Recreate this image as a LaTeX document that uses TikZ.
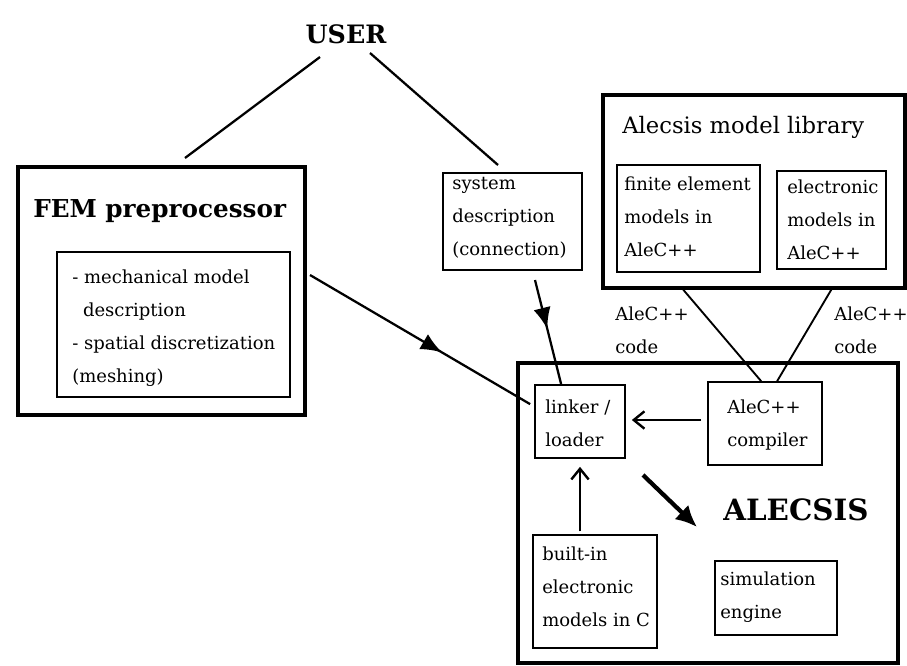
\documentclass[tikz,border=0pt]{standalone}
\usepackage{fontspec}
\setmainfont{DejaVu Serif}
\usetikzlibrary{fit,calc,decorations.markings,arrows.meta}
\begin{document}
\begin{tikzpicture}[x=0.75pt,y=-0.75pt,
 thickbox/.style={draw, line width=2.6pt, inner sep=0pt},
 thinbox/.style={draw, line width=1.3pt, inner sep=0pt},
 txt/.style={anchor=north west, inner sep=0pt, align=left, font=\fontsize{13.5}{24.75}\selectfont},
 conn/.style={line width=1.7pt},
 midarrow/.style={conn, decoration={markings, mark=at position #1 with {\arrow{Latex[length=16pt,width=13pt]}}}, postaction={decorate}},
 openarrow/.style={line width=1.8pt, -{Straight Barb[length=8pt,width=13pt]}},
]
\useasboundingbox (0,0) rectangle (907,665);

% titles
\node[inner sep=0pt, font=\fontsize{19}{22}\selectfont\bfseries] (user) at (346,34) {USER};

% FEM preprocessor
\node[thickbox, fit={(18,167) (305,415)}] (fem) {};
\node[anchor=base west, inner sep=0pt, font=\fontsize{18.5}{22}\selectfont\bfseries] (femt) at (33,217) {FEM preprocessor};
\node[thinbox, fit={(57,252) (290,397)}] (femin) {};
\node[txt] (femtx) at (72,270) {- mechanical model\\\hspace{0.6em}description\\- spatial discretization\\(meshing)};

% system description
\node[thinbox, fit={(443,173) (582,270)}] (sys) {};
\node[txt] (systx) at (452,177) {system\\description\\(connection)};

% Alecsis model library
\node[thickbox, fit={(603,95) (905,288)}] (lib) {};
\node[anchor=base west, inner sep=0pt, font=\fontsize{17}{20}\selectfont] (libt) at (622,133) {Alecsis model library};
\node[thinbox, fit={(617,165) (760,272)}] (fe) {};
\node[txt] (fetx) at (624,177) {finite element\\models in\\AleC++};
\node[thinbox, fit={(777,171) (886,269)}] (el) {};
\node[txt] (eltx) at (787,180) {electronic\\models in\\AleC++};

\node[txt] (code1) at (615,307) {AleC++\\code};
\node[txt] (code2) at (834,307) {AleC++\\code};

% ALECSIS
\node[thickbox, fit={(518,363) (898,663)}] (alc) {};
\node[anchor=base west, inner sep=0pt, font=\fontsize{22}{26}\selectfont\bfseries] (alct) at (723,520) {ALECSIS};
\node[thinbox, fit={(535,385) (625,458)}] (lnk) {};
\node[txt] (lnktx) at (545,400) {linker /\\loader};
\node[thinbox, fit={(708,382) (822,465)}] (cmp) {};
\node[txt] (cmptx) at (727,400) {AleC++\\compiler};
\node[thinbox, fit={(533,535) (657,648)}] (bin) {};
\node[txt] (bintx) at (542,547) {built-in\\electronic\\models in C};
\node[thinbox, fit={(715,561) (837,635)}] (sim) {};
\node[txt] (simtx) at (720,572) {simulation\\engine};

% USER lines
\coordinate (u1) at (320,57);
\coordinate (u2) at (370,53);
\coordinate (f1) at (185,158);
\coordinate (s1) at (498,165);
\draw[conn] (u1) -- (f1);
\draw[conn] (u2) -- (s1);

% library to compiler
\draw[line width=1.4pt] ($(lib.south west)+(82,0)$) -- ($(cmp.north west)+(54,0)$);
\draw[line width=1.4pt] ($(lib.south west)+(230,0)$) -- ($(cmp.north west)+(70,0)$);

% FEM -> linker
\coordinate (fa) at (310,275);
\draw[midarrow=0.6] (fa) -- ($(lnk.north west)+(-4,20)$);
% system description -> linker
\coordinate (sa) at (535,280);
\draw[midarrow=0.47] (sa) -- ($(lnk.north west)+(27,0)$);

% compiler -> linker
\draw[openarrow, shorten <=6pt*0.75, shorten >=6pt*0.75] (cmp.west |- 0,420) -- (lnk.east |- 0,420);
% built-in -> linker
\draw[openarrow, shorten >=8pt*0.75, shorten <=2pt] (lnk.south |- bin.north) -- (lnk.south);

% thick arrow to ALECSIS
\coordinate (t1) at (643,475);
\coordinate (t2) at (697,527);
\draw[line width=3.2pt, -{Latex[length=16pt,width=15pt]}] (t1) -- (t2);
\end{tikzpicture}
\end{document}
